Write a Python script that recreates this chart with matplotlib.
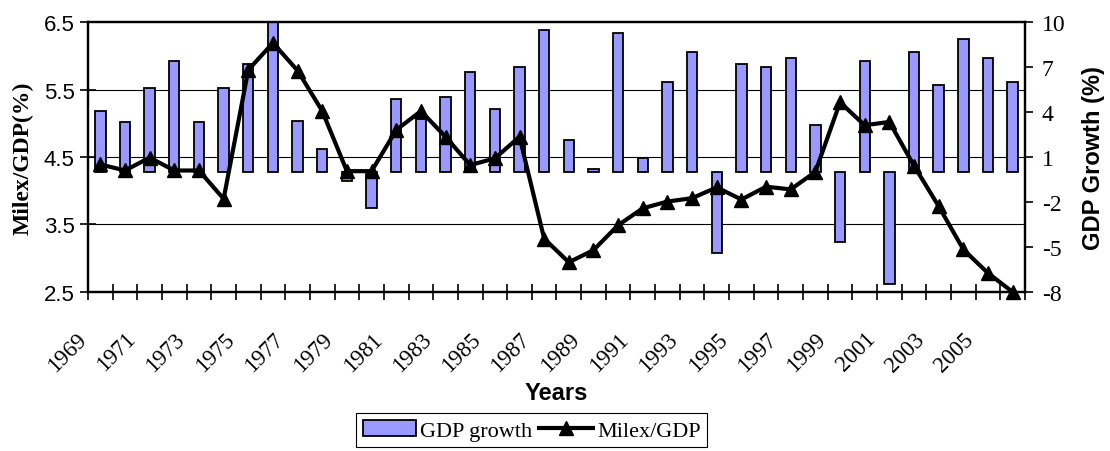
import matplotlib
matplotlib.use('Agg')
import matplotlib.pyplot as plt
import numpy as np
from matplotlib.transforms import blended_transform_factory

years = list(range(1969, 2007))
gdp_growth = [4.1, 3.3, 5.6, 7.4, 3.3, 5.6, 7.2, 10.5, 3.4, 1.5,
              -0.6, -2.4, 4.9, 3.5, 5.0, 6.7, 4.2, 7.0, 9.5, 2.1,
              0.2, 9.3, 0.9, 6.0, 8.0, -5.4, 7.2, 7.0, 7.6, 3.1,
              -4.7, 7.4, -7.5, 8.0, 5.8, 8.9, 7.6, 6.0]
milex_gdp = [4.39, 4.30, 4.49, 4.30, 4.30, 3.88, 5.79, 6.19, 5.78, 5.18,
             4.29, 4.29, 4.90, 5.18, 4.80, 4.38, 4.48, 4.80, 3.29, 2.94,
             3.12, 3.49, 3.74, 3.84, 3.89, 4.05, 3.87, 4.06, 4.02, 4.28,
             5.31, 4.97, 5.02, 4.37, 3.77, 3.13, 2.78, 2.50]
left_ticks = [2.5, 3.5, 4.5, 5.5, 6.5]
right_ticks = [-8, -5, -2, 1, 4, 7, 10]

SANS = 'Liberation Sans'
SERIF = 'Liberation Serif'


def main():
    x = np.arange(len(years))
    fig = plt.figure(figsize=(11.1, 4.52), dpi=100)
    ax = fig.add_axes([0.0793, 0.3518, 0.8441, 0.5973])
    ax2 = ax.twinx()

    # bars on the right scale, line on the left scale drawn above
    ax.set_zorder(ax2.get_zorder() + 1)
    ax.patch.set_visible(False)

    bars = ax2.bar(x, gdp_growth, width=0.42, color='#9999FF',
                   edgecolor='black', linewidth=1.3, zorder=2,
                   label='GDP growth')
    line, = ax.plot(x, milex_gdp, color='black', lw=3, marker='^',
                    markersize=10, clip_on=False, zorder=3,
                    label='Milex/GDP')

    ax.set_xlim(-0.5, len(years) - 0.5)
    ax.set_ylim(2.5, 6.5)
    ax2.set_ylim(-8, 10)

    # gridlines of the left axis, kept behind the bars
    trans = blended_transform_factory(ax2.transAxes, ax.transData)
    for v in left_ticks[1:-1]:
        ax2.plot([0, 1], [v, v], color='black', lw=0.8, transform=trans,
                 zorder=1)

    # x axis: ticks on category borders, labels every other year
    ax.set_xticks(np.arange(-0.5, len(years)))
    ax.set_xticklabels([])
    ax.set_xticks(x[::2] - 0.4, minor=True)
    ax.set_xticklabels([str(y) for y in years[::2]], minor=True,
                       rotation=45, ha='right', va='top',
                       fontfamily=SERIF, fontsize=16.5)
    ax.tick_params(axis='x', which='major', direction='inout', length=11,
                   width=1.2)
    ax.tick_params(axis='x', which='minor', length=0, pad=26)

    ax.set_yticks(left_ticks)
    ax.set_yticklabels([f'{v:.1f}' for v in left_ticks], fontfamily=SANS,
                       fontsize=16)
    ax.tick_params(axis='y', direction='inout', length=11, width=1.2, pad=4)

    ax2.set_yticks(right_ticks)
    ax2.set_yticklabels([str(v) for v in right_ticks], fontfamily=SERIF,
                        fontsize=17)
    ax2.tick_params(axis='y', direction='out', length=6, width=1.2, pad=6)

    for a in (ax, ax2):
        for s in a.spines.values():
            s.set_linewidth(1.6)
            s.set_color('black')

    ax.set_ylabel('Milex/GDP(%)', fontfamily=SERIF, fontweight='bold',
                  fontsize=17)
    ax.yaxis.set_label_coords(-0.058, 0.5)
    ax2.set_ylabel('GDP Growth (%)', fontfamily=SANS, fontweight='bold',
                   fontsize=17, labelpad=12)
    ax.set_xlabel('Years', fontfamily=SANS, fontweight='bold', fontsize=17)
    ax.xaxis.set_label_coords(0.5, -0.33)

    leg = fig.legend([bars, line], ['GDP growth', 'Milex/GDP'], ncol=2,
                     loc='upper center', bbox_to_anchor=(0.479, 0.083),
                     prop={'family': SERIF, 'size': 16}, frameon=True,
                     fancybox=False, edgecolor='black', framealpha=1,
                     handlelength=2.4, handletextpad=0.2,
                     columnspacing=0.3, borderpad=0.3, borderaxespad=0)
    leg.get_frame().set_linewidth(0.8)

    fig.savefig('out.png', dpi=100)


if __name__ == '__main__':
    main()
